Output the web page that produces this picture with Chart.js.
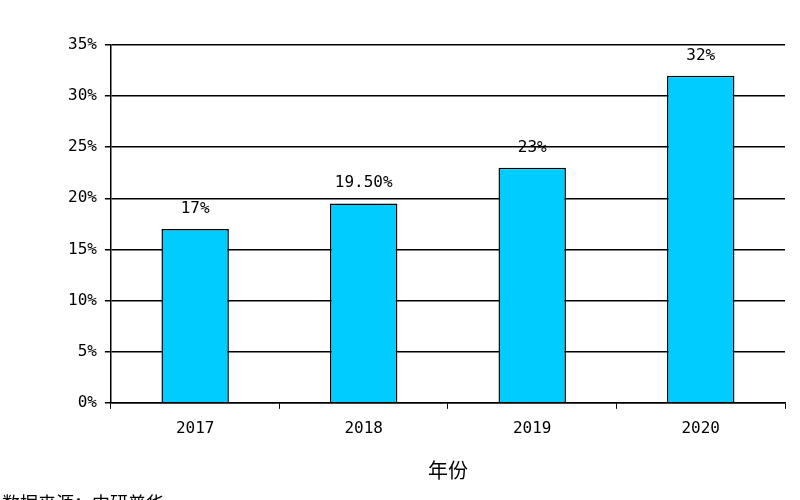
<!DOCTYPE html>
<html>
<head>
<meta charset="utf-8">
<script src="https://cdn.jsdelivr.net/npm/chart.js@4"></script>
<style>
  body { margin: 0; background: #fff; }
  #wrap { width: 800px; height: 500px; position: relative; overflow: hidden; }
  #note { position: absolute; left: 2px; top: 489px; font: 18px "Noto Sans CJK SC"; color: #000; }
</style>
</head>
<body>
<div id="wrap">
  <canvas id="myChart" width="800" height="500"></canvas>
  <div id="note">数据来源：中研普华</div>
</div>
<script>
// chart values
const years = ['2017', '2018', '2019', '2020'];
const shares = [17, 19.5, 23, 32];
const shareLabels = ['17%', '19.50%', '23%', '32%'];

// draw value labels over each bar
const valueLabels = {
    id: 'valueLabels',
    afterDatasetsDraw(chart) {
        const ctx = chart.ctx;
        const meta = chart.getDatasetMeta(0);
        ctx.save();
        ctx.font = '16px "DejaVu Sans Mono"';
        ctx.fillStyle = '#000';
        ctx.textAlign = 'center';
        meta.data.forEach((bar, i) => {
            ctx.fillText(shareLabels[i], bar.x, bar.y - 16);
        });
        ctx.restore();
    }
};

new Chart(document.getElementById('myChart').getContext('2d'), {
    type: 'bar',
    data: {
        labels: years,
        datasets: [{
            data: shares,
            backgroundColor: '#00CCFF',
            borderColor: '#000',
            borderWidth: 1.5,
            barPercentage: 0.4,
            categoryPercentage: 1
        }]
    },
    options: {
        responsive: false,
        animation: false,
        layout: { padding: { left: 60, right: 15, top: 45, bottom: 14 } },
        plugins: { legend: { display: false }, tooltip: { enabled: false } },
        scales: {
            x: {
                offset: true,
                grid: { display: true, drawOnChartArea: false, offset: true, color: '#000', tickLength: 6 },
                border: { color: '#000', width: 1.5 },
                ticks: { color: '#000', font: { family: 'DejaVu Sans Mono', size: 16 }, padding: 10 },
                title: { display: true, text: '年份', color: '#000', font: { family: 'Noto Sans CJK SC', size: 20 }, padding: { top: 10 } }
            },
            y: {
                min: 0, max: 35,
                grid: { color: '#000', lineWidth: 1.5, tickLength: 6 },
                border: { color: '#000', width: 1.5 },
                ticks: { stepSize: 5, padding: 8, color: '#000', font: { family: 'DejaVu Sans Mono', size: 16 }, callback: v => v + '%' }
            }
        }
    },
    plugins: [valueLabels]
});
</script>
</body>
</html>
